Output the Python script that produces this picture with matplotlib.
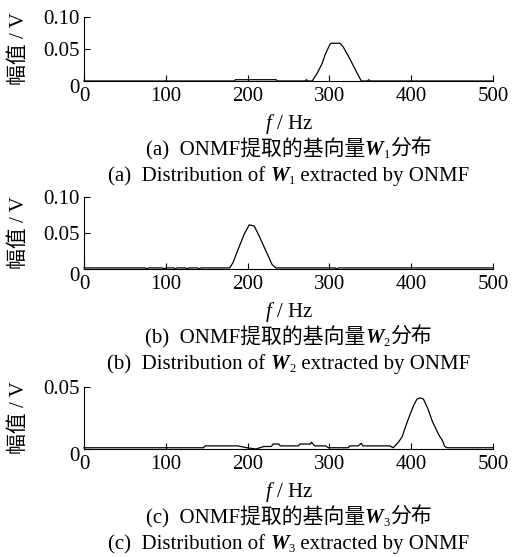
import matplotlib
matplotlib.use('Agg')
import matplotlib.pyplot as plt
import matplotlib.transforms as mtransforms

plt.rcParams['font.family'] = ['Liberation Serif', 'Noto Sans CJK SC']
plt.rcParams['mathtext.fontset'] = 'custom'
plt.rcParams['mathtext.rm'] = 'Liberation Serif'
plt.rcParams['mathtext.it'] = 'Liberation Serif:italic'

# basis vector W1
f1 = [0, 184, 185, 235, 236, 270, 272, 274, 279, 285, 291, 295, 301, 303, 313,
      317, 324, 330, 334, 339, 346, 348, 350, 500]
w1 = [0, 0, 0.002, 0.002, 0, 0, 0.002, 0, 0, 0.012, 0.027, 0.042, 0.058, 0.059,
      0.059, 0.053, 0.037, 0.022, 0.012, 0, 0, 0.002, 0, 0]

# basis vector W2
f2 = [0, 75, 77, 79, 96, 98, 100, 110, 112, 114, 124, 126, 128, 139, 141, 143,
      178, 182, 188, 196, 202, 208, 214, 222, 230, 234.5, 307, 309, 311, 500]
w2 = [0.0015, 0.0015, 0, 0.0015, 0.0015, 0, 0.0015, 0.0015, 0, 0.0015, 0.0015, 0,
      0.0015, 0.0015, 0, 0.0015, 0.0015, 0.0085, 0.026, 0.0485, 0.061, 0.0595,
      0.046, 0.026, 0.006, 0.0015, 0.0015, 0, 0.0015, 0.0015]

# basis vector W3
f3 = [0, 146, 148, 188, 199, 210, 220, 229, 231, 238, 240, 262, 264, 277, 278,
      280, 282, 295, 299, 323, 325, 335, 339, 341, 374, 378, 385, 389, 391, 397,
      403, 407, 411, 415, 420, 426, 434, 438, 441, 444, 500]
w3 = [0.001, 0.001, 0.0025, 0.0025, 0.001, 0, 0.002, 0.002, 0.004, 0.004, 0.0025,
      0.0025, 0.004, 0.004, 0.0055, 0.004, 0.0025, 0.0025, 0.001, 0.001, 0.0025,
      0.0025, 0.0045, 0.0025, 0.0025, 0.001, 0.006, 0.0099, 0.014, 0.025, 0.035,
      0.040, 0.041, 0.040, 0.033, 0.022, 0.011, 0.007, 0.002, 0.001, 0.001]

xticks = [0, 100, 200, 300, 400, 500]
yticks_a = [0, 0.05, 0.10]
ylabels_a = ['0', '0.05', '0.10']
yticks_c = [0, 0.05]
ylabels_c = ['0', '0.05']

panel_tags = ['(a)', '(b)', '(c)']
subs = ['1', '2', '3']

W, H = 530, 557
fig = plt.figure(figsize=(W / 100, H / 100), dpi=100)
renderer = fig.canvas.get_renderer()


def caption(xc, yc, parts):
    # parts: (text, fontsize, weight, style, dy in px); laid out left to right, centred on xc
    texts = []
    for s, size, weight, style, dy in parts:
        t = fig.text(0, 1 - (yc - dy) / H, s, fontsize=size, fontweight=weight,
                     fontstyle=style, ha='left', va='baseline')
        texts.append(t)
    widths = [t.get_window_extent(renderer).width for t in texts]
    x = xc - sum(widths) / 2
    for t, wd in zip(texts, widths):
        t.set_x(x / W)
        x += wd


# axes boxes in pixels: (top, bottom)
boxes = [(17, 81), (196.7, 269), (386.7, 449)]
series = [(f1, w1, yticks_a, ylabels_a, 0.10),
          (f2, w2, yticks_a, ylabels_a, 0.10),
          (f3, w3, yticks_c, ylabels_c, 0.05)]
left, right = 84, 493
xc = (left + right) / 2
zero_shift = mtransforms.ScaledTranslation(0, -5 / 100, fig.dpi_scale_trans)

for i, ((top, bot), (f, w, yt, yl, ymax)) in enumerate(zip(boxes, series)):
    ax = fig.add_axes([left / W, 1 - bot / H, (right - left) / W, (bot - top) / H])
    ax.plot(f, w, color='black', lw=0.9, clip_on=False)
    ax.set_xlim(0, 500)
    ax.set_ylim(0, ymax)
    ax.set_xticks(xticks)
    ax.set_yticks(yt)
    ax.set_yticklabels(yl)
    ax.spines['top'].set_visible(False)
    ax.spines['right'].set_visible(False)
    ax.spines['left'].set_linewidth(0.8)
    ax.spines['bottom'].set_linewidth(0.8)
    ax.tick_params(direction='in', length=4, width=0.8, labelsize=15)
    ax.tick_params(axis='x', pad=4)
    ax.tick_params(axis='y', pad=3)
    ax.set_ylabel('幅值 / V', fontsize=15, labelpad=10)
    # the "0" on the value axis sits a little below the baseline
    lab0 = ax.get_yticklabels()[0]
    lab0.set_transform(lab0.get_transform() + zero_shift)

    fig.text(xc / W, 1 - (bot + 48) / H, '$f$ / Hz', fontsize=15,
             ha='center', va='baseline')
    caption(xc, bot + 74, [
        (panel_tags[i] + '  ONMF提取的基向量', 15, 'normal', 'normal', 0),
        ('W', 15, 'bold', 'italic', 0),
        (subs[i], 9, 'normal', 'normal', -3),
        ('分布', 15, 'normal', 'normal', 0),
    ])
    caption(xc, bot + 100, [
        (panel_tags[i] + '  Distribution of ', 15, 'normal', 'normal', 0),
        ('W', 15, 'bold', 'italic', 0),
        (subs[i], 9, 'normal', 'normal', -3),
        (' extracted by ONMF', 15, 'normal', 'normal', 0),
    ])

fig.savefig('out.png', dpi=100)
